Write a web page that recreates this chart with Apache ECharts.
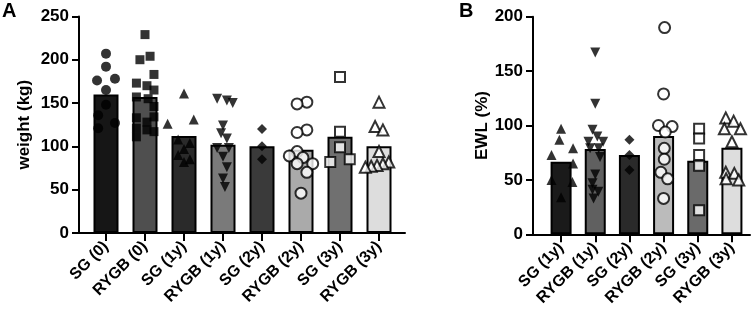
<!DOCTYPE html>
<html>
<head>
<meta charset="utf-8">
<script src="https://cdn.jsdelivr.net/npm/echarts@6/dist/echarts.min.js"></script>
<style>
  html, body { margin: 0; padding: 0; background: #fff; }
  #main { width: 756px; height: 315px; }
</style>
</head>
<body>
<div id="main"></div>
<script>
// panel A: weight (kg)
const catsA = ['SG (0)', 'RYGB (0)', 'SG (1y)', 'RYGB (1y)', 'SG (2y)', 'RYGB (2y)', 'SG (3y)', 'RYGB (3y)'];
const barsA = [160, 157, 112, 102, 100, 96, 111, 100];
const ptsA = [
  [207, 192, 178, 176, 165, 148, 136, 127, 121],
  [229, 204, 200, 183, 173, 170, 165, 157, 155, 146, 134, 133, 128, 121, 119, 117, 111],
  [161, 131, 126, 108, 104, 97, 90, 85, 82],
  [155, 153, 150, 124, 115, 109, 98, 98, 88, 76, 63, 53],
  [120, 100, 85],
  [151, 149, 119, 116, 94, 89, 87, 80, 80, 70, 46],
  [180, 117, 99, 85, 82],
  [151, 123, 119, 94, 82, 80, 78, 77, 76]
];
// horizontal jitter of each point, as a fraction of one category
const jitA = [
  [0, 0, 0.23, -0.23, 0, 0, -0.2, 0.23, -0.2],
  [0, 0.13, -0.13, 0.23, -0.22, 0.05, 0.23, -0.22, 0.08, 0.23, 0.23, -0.22, 0.05, -0.22, 0.05, 0.23, -0.22],
  [0, 0.25, -0.42, -0.15, 0.15, 0, -0.15, 0.15, 0],
  [-0.15, 0.1, 0.25, 0, -0.05, 0.1, -0.15, 0.15, 0, 0.1, 0, 0.05],
  [0, 0, 0],
  [0.15, -0.1, 0.15, -0.1, -0.1, -0.3, 0.05, -0.1, 0.3, 0.15, 0],
  [0, 0, 0, 0.25, -0.25],
  [0, -0.1, 0.1, 0, 0.25, 0.1, -0.05, -0.2, -0.35]
];

// panel B: EWL (%)
const catsB = ['SG (1y)', 'RYGB (1y)', 'SG (2y)', 'RYGB (2y)', 'SG (3y)', 'RYGB (3y)'];
const barsB = [66.7, 78.4, 72.9, 90.3, 67.6, 79.6];
const ptsB = [
  [97, 87, 79, 73, 65, 50, 48, 34],
  [167, 120, 96, 90, 85, 85, 79, 79, 71, 55, 47, 41, 39, 33],
  [87, 73, 59],
  [190, 129, 100, 99, 94, 79, 69, 57, 51, 33],
  [97, 88, 73, 63, 22],
  [107, 104, 97, 97, 85, 57, 56, 51, 50]
];
const jitB = [
  [0, -0.05, 0.35, -0.28, 0.35, -0.28, 0.33, 0],
  [0, 0, -0.08, 0.06, -0.2, 0.23, -0.15, 0.1, 0.14, 0, -0.08, -0.08, 0.09, -0.05],
  [0, 0, 0],
  [0.03, 0, -0.15, 0.25, 0.05, 0.02, 0.02, -0.08, 0.12, 0],
  [0.04, 0.04, 0.04, 0.04, 0.04],
  [-0.18, 0.05, 0.25, -0.22, 0, -0.18, 0.07, -0.17, 0.2]
];
const ticksA = [0, 50, 100, 150, 200, 250];
const ticksB = [0, 50, 100, 150, 200];

// styles
const colorsA = ['#161616', '#4f4f4f', '#2a2a2a', '#7a7a7a', '#3a3a3a', '#aaaaaa', '#707070', '#dddddd'];
const colorsB = ['#1a1a1a', '#606060', '#2a2a2a', '#bbbbbb', '#6a6a6a', '#dddddd'];
const shapesA = ['circle', 'square', 'up', 'down', 'diamond', 'openCircle', 'openSquare', 'openUp'];
const shapesB = ['up', 'down', 'diamond', 'openCircle', 'openSquare', 'openUp'];

const FONT = 'Liberation Sans, Arial, sans-serif';

function markStyle(shape) {
  const open = shape.indexOf('open') === 0;
  const base = open ? shape.slice(4).toLowerCase() : shape;
  const sym = { circle: 'circle', square: 'rect', up: 'triangle', down: 'triangle', diamond: 'diamond' }[base];
  const size = { circle: 10, square: 9, up: 10, down: 10, diamond: 10 }[base];
  return {
    symbol: sym,
    symbolSize: open ? size + 1 : size,
    symbolRotate: base === 'down' ? 180 : 0,
    itemStyle: open
      ? { color: '#fff', borderColor: '#000', borderWidth: 2 }
      : { color: '#000', borderWidth: 0 }
  };
}

function scatterSeries(pts, jit, shapes, xIdx, yIdx) {
  return pts.map(function (vals, i) {
    const st = markStyle(shapes[i]);
    return Object.assign({
      type: 'scatter',
      xAxisIndex: xIdx,
      yAxisIndex: yIdx,
      z: 5,
      silent: true,
      data: vals.map(function (v, k) { return [i + jit[i][k], v]; })
    }, st);
  });
}

const labelStyle = { color: '#000', fontFamily: FONT, fontWeight: 'bold' };

function catAxis(cats, gridIndex) {
  return {
    type: 'category', gridIndex: gridIndex, data: cats, boundaryGap: true,
    axisLine: { show: false },
    axisTick: { show: true, alignWithLabel: true, length: 8, lineStyle: { color: '#000', width: 2 } },
    axisLabel: Object.assign({ rotate: 45, fontSize: 16, margin: 11, interval: 0 }, labelStyle),
    splitLine: { show: false }
  };
}
function lineAxis(gridIndex) {
  return {
    type: 'value', gridIndex: gridIndex, min: 0, max: 1,
    axisLine: { show: true, lineStyle: { color: '#000', width: 2 } },
    axisTick: { show: false }, axisLabel: { show: false }, splitLine: { show: false }
  };
}
function jitterAxis(n, gridIndex) {
  return { type: 'value', gridIndex: gridIndex, min: -0.5, max: n - 0.5, show: false };
}
function hiddenY(max, gridIndex) {
  return { type: 'value', gridIndex: gridIndex, min: 0, max: max, show: false };
}
function shownY(ticks, name, gap, gridIndex) {
  return {
    type: 'value', gridIndex: gridIndex, min: 0, max: ticks[ticks.length - 1], interval: ticks[1] - ticks[0],
    name: name, nameLocation: 'middle', nameGap: gap,
    nameTextStyle: Object.assign({ fontSize: 17 }, labelStyle),
    axisLine: { show: true, lineStyle: { color: '#000', width: 2 } },
    axisTick: { show: true, length: 7, lineStyle: { color: '#000', width: 2 } },
    axisLabel: Object.assign({ fontSize: 17, margin: 10 }, labelStyle),
    splitLine: { show: false }
  };
}

const option = {
  animation: false,
  backgroundColor: '#fff',
  grid: [
    { left: 86.5, width: 312, top: 16.4, height: 216.6 },
    { left: 79, width: 326, top: 16.4, height: 216.6 },
    { left: 544, width: 205, top: 16.7, height: 217.6 },
    { left: 533, width: 217, top: 16.7, height: 217.6 }
  ],
  xAxis: [
    catAxis(catsA, 0), lineAxis(1), jitterAxis(catsA.length, 0),
    catAxis(catsB, 2), lineAxis(3), jitterAxis(catsB.length, 2)
  ],
  yAxis: [
    hiddenY(ticksA[ticksA.length - 1], 0), shownY(ticksA, 'weight (kg)', 46, 1),
    hiddenY(ticksB[ticksB.length - 1], 2), shownY(ticksB, 'EWL (%)', 36, 3)
  ],
  graphic: [
    { type: 'text', left: 2, top: 1, style: { text: 'A', fontSize: 20, fontWeight: 'bold', fontFamily: FONT, fill: '#000' } },
    { type: 'text', left: 459, top: 1, style: { text: 'B', fontSize: 20, fontWeight: 'bold', fontFamily: FONT, fill: '#000' } }
  ],
  series: [
    {
      type: 'bar', xAxisIndex: 0, yAxisIndex: 0, barWidth: 25, silent: true,
      data: barsA.map(function (v, i) { return { value: v, itemStyle: { color: colorsA[i] } }; }),
      itemStyle: { borderColor: '#000', borderWidth: 2 }
    },
    {
      type: 'bar', xAxisIndex: 3, yAxisIndex: 2, barWidth: 21, silent: true,
      data: barsB.map(function (v, i) { return { value: v, itemStyle: { color: colorsB[i] } }; }),
      itemStyle: { borderColor: '#000', borderWidth: 2 }
    }
  ].concat(
    scatterSeries(ptsA, jitA, shapesA, 2, 0),
    scatterSeries(ptsB, jitB, shapesB, 5, 2)
  )
};

const chart = echarts.init(document.getElementById('main'), null, { renderer: 'canvas' });
chart.setOption(option);
</script>
</body>
</html>
